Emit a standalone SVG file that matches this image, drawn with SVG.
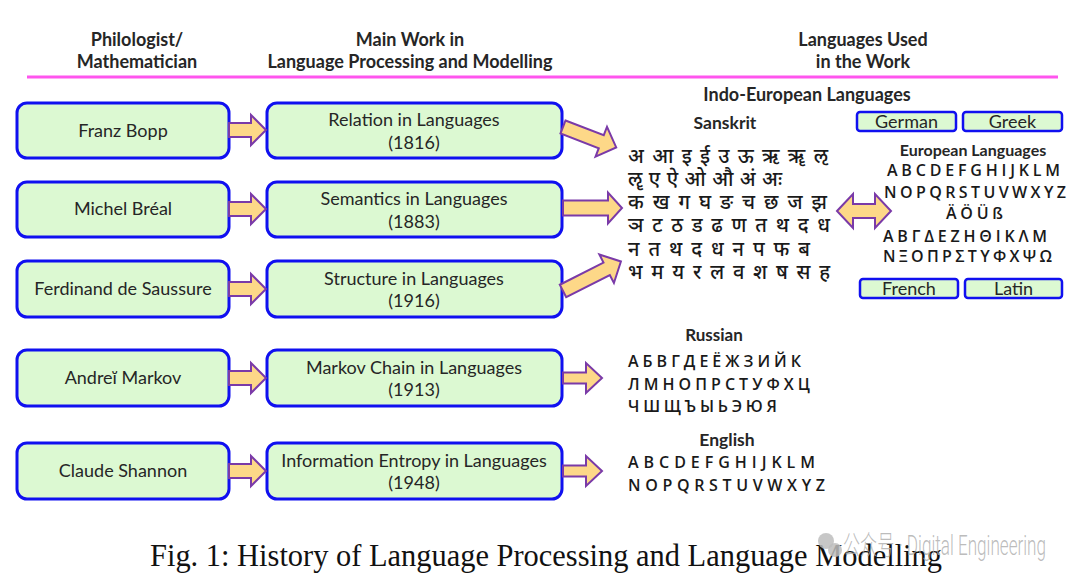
<svg xmlns="http://www.w3.org/2000/svg" width="1080" height="587" viewBox="0 0 1080 587">
<defs>
<style>
.box{fill:#DCF9D2;stroke:#1010F0;stroke-width:3}
.sbox{fill:#DCF9D2;stroke:#1010F0;stroke-width:2.5}
.arr{fill:#FDD888;stroke:#7A3AA8;stroke-width:2;stroke-linejoin:miter}
.t{font-family:Lato,"Open Sans","Liberation Sans",sans-serif;font-size:18px;fill:#262626;text-anchor:middle}
.h{font-family:Lato,"Open Sans","Liberation Sans",sans-serif;font-size:18px;font-weight:bold;fill:#262626;text-anchor:middle}
.hs{font-family:Lato,"Open Sans","Liberation Sans",sans-serif;font-size:17px;font-weight:bold;fill:#262626;text-anchor:middle}
.l{font-family:"Open Sans",Lato,"Liberation Sans",sans-serif;font-size:16px;font-weight:600;fill:#1a1a1a}
.d{font-family:"Noto Sans Devanagari","Noto Sans","Lohit Devanagari",sans-serif;font-size:20px;font-weight:500;fill:#1a1a1a}
.cap{font-family:"Liberation Serif","Times New Roman",serif;font-size:31px;fill:#111}
.wm{font-family:Roboto,"Noto Sans","Noto Sans CJK SC",sans-serif;font-size:27px;font-weight:300;fill:#b0b0b0;fill-opacity:0.85}
</style>
</defs>
<rect width="1080" height="587" fill="#ffffff"/>

<g id="headers">
<text class="h" x="137" y="46">Philologist/</text>
<text class="h" x="137" y="68">Mathematician</text>
<text class="h" x="410" y="46">Main Work in</text>
<text class="h" x="410" y="68">Language Processing and Modelling</text>
<text class="h" x="863" y="46">Languages Used</text>
<text class="h" x="863" y="68">in the Work</text>
<line x1="27" y1="77" x2="1058" y2="77" stroke="#FF55EE" stroke-width="3"/>
</g>

<g id="n-bopp"><rect class="box" x="17" y="103" width="212" height="55" rx="10"/><text class="t" x="123" y="137">Franz Bopp</text></g>
<g id="n-breal"><rect class="box" x="17" y="182" width="212" height="55" rx="10"/><text class="t" x="123" y="215">Michel Bréal</text></g>
<g id="n-saussure"><rect class="box" x="17" y="261" width="212" height="56" rx="10"/><text class="t" x="123" y="295">Ferdinand de Saussure</text></g>
<g id="n-markov"><rect class="box" x="17" y="350" width="212" height="56" rx="10"/><text class="t" x="123" y="384">Andreĭ Markov</text></g>
<g id="n-shannon"><rect class="box" x="17" y="443" width="212" height="56" rx="10"/><text class="t" x="123" y="477">Claude Shannon</text></g>

<g id="w-relation"><rect class="box" x="267" y="103" width="295" height="55" rx="10"/><text class="t" x="414" y="126">Relation in Languages</text><text class="t" x="414" y="149">(1816)</text></g>
<g id="w-semantics"><rect class="box" x="267" y="182" width="295" height="55" rx="10"/><text class="t" x="414" y="205">Semantics in Languages</text><text class="t" x="414" y="228">(1883)</text></g>
<g id="w-structure"><rect class="box" x="267" y="261" width="295" height="56" rx="10"/><text class="t" x="414" y="285">Structure in Languages</text><text class="t" x="414" y="307">(1916)</text></g>
<g id="w-markov"><rect class="box" x="267" y="350" width="295" height="56" rx="10"/><text class="t" x="414" y="374">Markov Chain in Languages</text><text class="t" x="414" y="396">(1913)</text></g>
<g id="w-entropy"><rect class="box" x="267" y="443" width="295" height="56" rx="10"/><text class="t" x="414" y="467">Information Entropy in Languages</text><text class="t" x="414" y="489">(1948)</text></g>

<g id="connectors">
<path class="arr" transform="translate(229,130)" d="M0,-7 H22 V-15 L37,0 L22,15 V7 H0 Z"/>
<path class="arr" transform="translate(229,209)" d="M0,-7 H22 V-15 L37,0 L22,15 V7 H0 Z"/>
<path class="arr" transform="translate(229,289)" d="M0,-7 H22 V-15 L37,0 L22,15 V7 H0 Z"/>
<path class="arr" transform="translate(229,378)" d="M0,-7 H22 V-15 L37,0 L22,15 V7 H0 Z"/>
<path class="arr" transform="translate(229,471)" d="M0,-7 H22 V-15 L37,0 L22,15 V7 H0 Z"/>
<path class="arr" transform="translate(563,127) rotate(21)" d="M0,-7 H41 V-16 L57,0 L41,16 V7 H0 Z"/>
<path class="arr" transform="translate(563,208)" d="M0,-7.5 H45 V-15.5 L59,0 L45,15.5 V7.5 H0 Z"/>
<path class="arr" transform="translate(563,291) rotate(-27)" d="M0,-7 H49 V-16 L65,0 L49,16 V7 H0 Z"/>
<path class="arr" transform="translate(563,378)" d="M0,-5.5 H23 V-15 L39,0 L23,15 V5.5 H0 Z"/>
<path class="arr" transform="translate(563,471)" d="M0,-5.5 H23 V-15 L39,0 L23,15 V5.5 H0 Z"/>
<path class="arr" transform="translate(837,211)" d="M0,0 L16,-17 V-7 H38 V-17 L54,0 L38,17 V7 H16 V17 Z"/>
</g>

<g id="indo-european">
<text class="h" x="807" y="101">Indo-European Languages</text>
<text class="hs" x="725" y="129" style="font-size:17.5px">Sanskrit</text>
<text class="d" x="628" y="163" textLength="200" lengthAdjust="spacing">अ आ इ ई उ ऊ ऋ ॠ ऌ</text>
<text class="d" x="628" y="186" textLength="154" lengthAdjust="spacing">ॡ ए ऐ ओ औ अं अः</text>
<text class="d" x="628" y="209" textLength="199" lengthAdjust="spacing">क ख ग घ ङ च छ ज झ</text>
<text class="d" x="628" y="232" textLength="202" lengthAdjust="spacing">ञ ट ठ ड ढ ण त थ द ध</text>
<text class="d" x="628" y="256" textLength="182" lengthAdjust="spacing">न त थ द ध न प फ ब</text>
<text class="d" x="628" y="279" textLength="202" lengthAdjust="spacing">भ म य र ल व श ष स ह</text>
</g>

<g id="german"><rect class="sbox" x="857" y="112" width="99" height="19" rx="3"/><text class="t" x="906.5" y="128">German</text></g>
<g id="greek"><rect class="sbox" x="963" y="112" width="99" height="19" rx="3"/><text class="t" x="1012.5" y="128">Greek</text></g>
<g id="french"><rect class="sbox" x="860" y="279" width="98" height="19" rx="3"/><text class="t" x="909" y="295">French</text></g>
<g id="latin"><rect class="sbox" x="965" y="279" width="97" height="19" rx="3"/><text class="t" x="1013.5" y="295">Latin</text></g>

<g id="european">
<text class="hs" x="973" y="156" style="font-size:16px">European Languages</text>
<text class="l" x="887" y="176" textLength="173" lengthAdjust="spacing">A B C D E  F G H I J K L M</text>
<text class="l" x="884" y="198" textLength="182" lengthAdjust="spacing">N O P Q R S T U V W X Y Z</text>
<text class="l" x="946" y="219" textLength="57" lengthAdjust="spacing">Ä Ö Ü ß</text>
<text class="l" x="883" y="242" textLength="164" lengthAdjust="spacing">Α Β Γ Δ Ε  Ζ Η Θ Ι Κ Λ Μ</text>
<text class="l" x="883" y="262" textLength="169" lengthAdjust="spacing">Ν Ξ Ο Π Ρ Σ Τ Υ Φ Χ Ψ Ω</text>
</g>

<g id="russian">
<text class="hs" x="714" y="341">Russian</text>
<text class="l" x="628" y="367" textLength="173" lengthAdjust="spacing">А Б В Г Д Е Ё Ж З И Й К</text>
<text class="l" x="628" y="390" textLength="182" lengthAdjust="spacing">Л М Н О П Р С Т У Ф Х Ц</text>
<text class="l" x="628" y="412" textLength="149" lengthAdjust="spacing">Ч Ш Щ Ъ Ы Ь Э Ю Я</text>
</g>

<g id="english">
<text class="hs" x="727" y="446" style="font-size:17.5px">English</text>
<text class="l" x="628" y="468" textLength="187" lengthAdjust="spacing">A B C D E  F G H I J K L M</text>
<text class="l" x="628" y="491" textLength="197" lengthAdjust="spacing">N O P Q R S T U V W X Y Z</text>
</g>

<g id="caption">
<text class="cap" x="150" y="566" textLength="792" lengthAdjust="spacingAndGlyphs">Fig. 1: History of Language Processing and Language Modelling</text>
</g>

<g id="watermark">
<circle cx="826" cy="541" r="8" fill="#bdbdbd" fill-opacity="0.85"/>
<circle cx="835" cy="550" r="7" fill="#bdbdbd" fill-opacity="0.85"/>
<text class="wm" x="843" y="555" textLength="203" lengthAdjust="spacingAndGlyphs">公众号 · Digital Engineering</text>
</g>
</svg>
